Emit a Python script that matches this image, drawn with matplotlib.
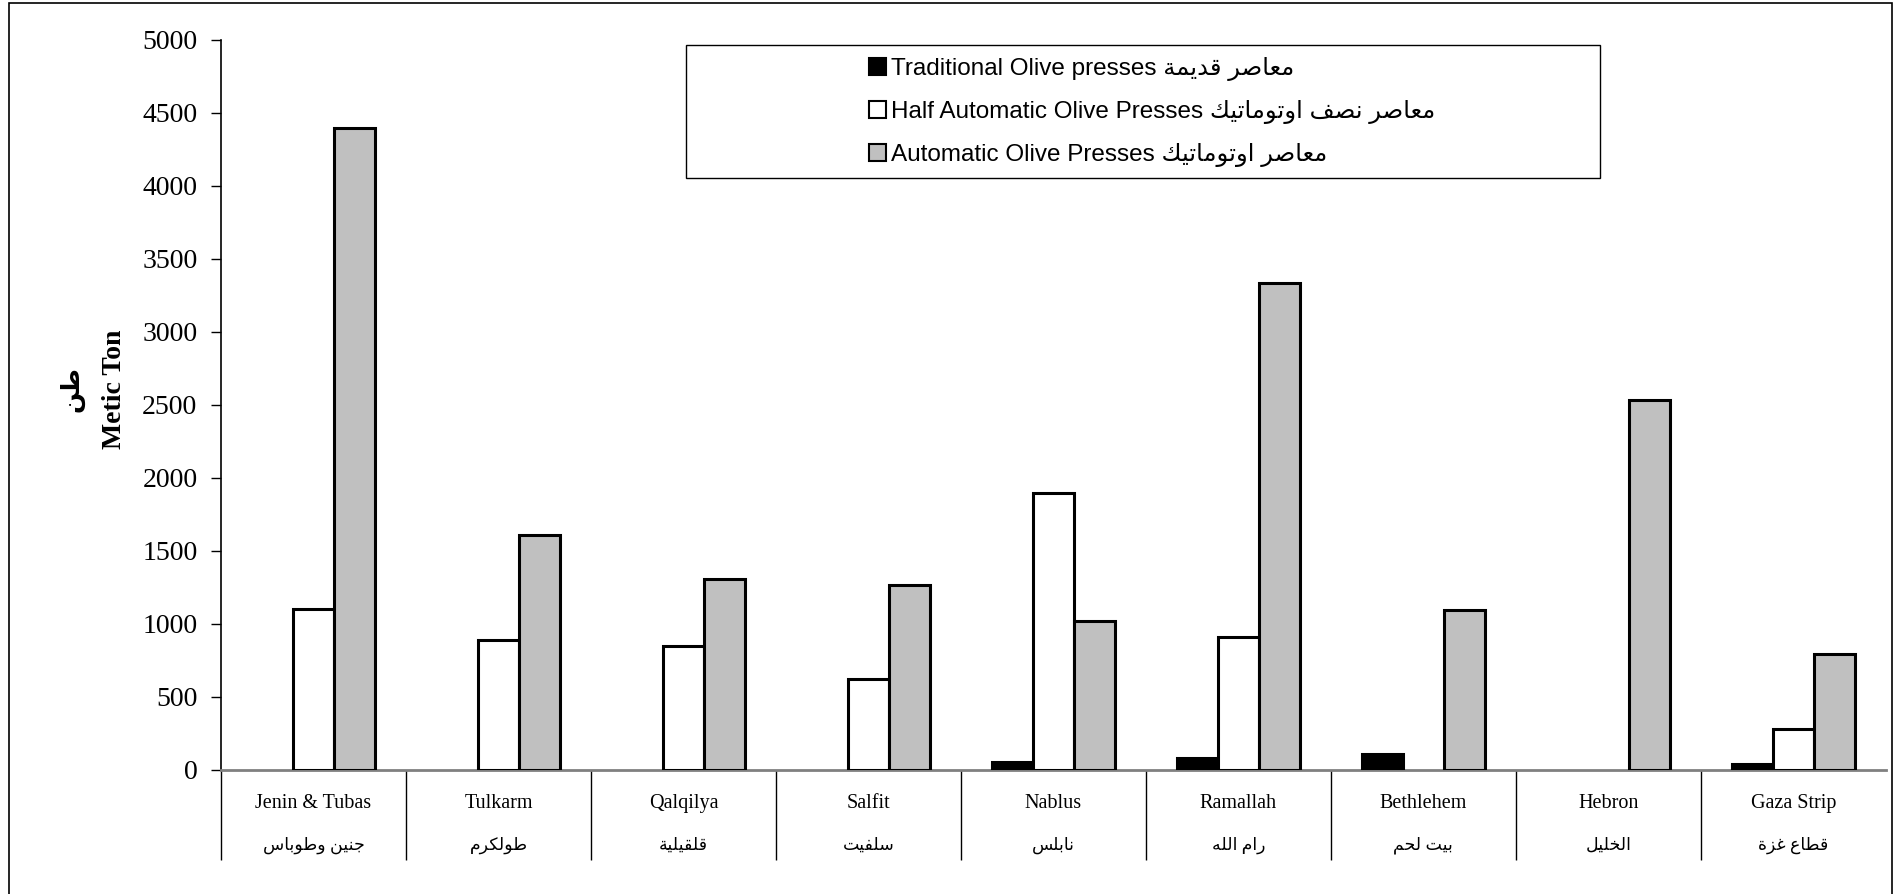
import numpy as np
import matplotlib
matplotlib.use("Agg")
import matplotlib.pyplot as plt
from matplotlib.patches import Rectangle
import matplotlib.transforms as mtransforms

# districts (English / Arabic)
districts_en = ["Jenin & Tubas", "Tulkarm", "Qalqilya", "Salfit", "Nablus",
                "Ramallah", "Bethlehem", "Hebron", "Gaza Strip"]
districts_ar = ["جنين وطوباس", "طولكرم", "قلقيلية", "سلفيت", "نابلس",
                "رام الله", "بيت لحم", "الخليل", "قطاع غزة"]

# metric ton per press type
traditional = [0, 0, 0, 0, 50, 80, 110, 0, 35]
half_auto = [1100, 885, 850, 620, 1895, 910, 0, 0, 275]
automatic = [4395, 1605, 1305, 1265, 1015, 3335, 1090, 2530, 795]

series_names = [("Traditional Olive presses ", "معاصر قديمة"),
                ("Half Automatic Olive Presses ", "معاصر نصف اوتوماتيك"),
                ("Automatic Olive Presses ", "معاصر اوتوماتيك")]
series_colors = ["black", "white", "#c0c0c0"]

# --- minimal arabic shaping (matplotlib has no bidi / joining) ---
_dual = {"ب": 0xFE8F, "ت": 0xFE95, "ث": 0xFE99, "ج": 0xFE9D, "ح": 0xFEA1,
         "خ": 0xFEA5, "س": 0xFEB1, "ش": 0xFEB5, "ص": 0xFEB9, "ض": 0xFEBD,
         "ط": 0xFEC1, "ظ": 0xFEC5, "ع": 0xFEC9, "غ": 0xFECD, "ف": 0xFED1,
         "ق": 0xFED5, "ك": 0xFED9, "ل": 0xFEDD, "م": 0xFEE1, "ن": 0xFEE5,
         "ه": 0xFEE9, "ي": 0xFEF1}
_right = {"ا": 0xFE8D, "ة": 0xFE93, "د": 0xFEA9, "ذ": 0xFEAB, "ر": 0xFEAD,
          "ز": 0xFEAF, "و": 0xFEED, "ى": 0xFEEF}


def shape(txt):
    out = []
    for i, c in enumerate(txt):
        prev = txt[i - 1] if i > 0 else ""
        nxt = txt[i + 1] if i + 1 < len(txt) else ""
        jp = prev in _dual
        if c in _dual:
            jn = nxt in _dual or nxt in _right
            base = _dual[c]
            if jp and jn:
                out.append(chr(base + 3))
            elif jp:
                out.append(chr(base + 1))
            elif jn:
                out.append(chr(base + 2))
            else:
                out.append(chr(base))
        elif c in _right:
            out.append(chr(_right[c] + (1 if jp else 0)))
        else:
            out.append(c)
    return "".join(out)[::-1]


serif = ["Liberation Serif", "DejaVu Sans"]
sans = ["Liberation Sans", "DejaVu Sans"]

fig = plt.figure(figsize=(18.94, 8.94), dpi=100)
ax = fig.add_axes([0.1167, 0.1392, 0.879, 0.8162])

x = np.arange(len(districts_en))
w = 0.222
for k, (vals, col) in enumerate(zip([traditional, half_auto, automatic], series_colors)):
    idx = [i for i, v in enumerate(vals) if v > 0]
    ax.bar(x[idx] + (k - 1) * w, [vals[i] for i in idx], width=w, color=col,
           edgecolor="black", linewidth=2.2, zorder=3)

ax.set_xlim(-0.5, len(districts_en) - 0.5)
ax.set_ylim(0, 5000)
ax.set_yticks(np.arange(0, 5001, 500))
ax.set_yticklabels([str(v) for v in range(0, 5001, 500)], family=serif, fontsize=20)
ax.tick_params(axis="y", direction="out", length=7, width=1, pad=10)
ax.set_xticks([])
for s in ["top", "right"]:
    ax.spines[s].set_visible(False)
ax.spines["left"].set_linewidth(1.2)
ax.spines["bottom"].set_color("#808080")
ax.spines["bottom"].set_linewidth(2)

# category table under the axis
trans = mtransforms.blended_transform_factory(ax.transData, ax.transAxes)
ax.vlines(np.arange(-0.5, len(districts_en) - 1), -0.124, 0, transform=trans,
          colors="black", linewidth=1, clip_on=False)
for i, (en, ar) in enumerate(zip(districts_en, districts_ar)):
    ax.text(i, -0.047, en, transform=trans, ha="center", va="center",
            family=serif, fontsize=14.5)
    ax.text(i, -0.104, shape(ar), transform=trans, ha="center", va="center",
            family=serif, fontsize=12.5)

# y labels
fig.text(0.0606, 0.565, "Metic Ton", rotation=90, ha="center", va="center",
         family=serif, fontsize=20, fontweight="bold")
fig.text(0.038, 0.565, shape("طن"), rotation=90, ha="center", va="center",
         family=serif, fontsize=18, fontweight="bold")

# legend in its box
fig.patches.append(Rectangle((0.3622, 0.8014), 0.4828, 0.1486, transform=fig.transFigure,
                             facecolor="white", edgecolor="black", linewidth=1, zorder=5))
handles = [Rectangle((0, 0), 1, 1, facecolor=c, edgecolor="black", linewidth=1.5)
           for c in series_colors]
labels = [en + shape(ar) for en, ar in series_names]
leg = fig.legend(handles, labels, loc="upper left", bbox_to_anchor=(0.4475, 0.961),
                 frameon=False, handlelength=0.7, handleheight=0.7, handletextpad=0.2,
                 labelspacing=0.78, prop={"family": sans, "size": 17.5})
leg.set_zorder(6)

# outer frame
fig.patches.append(Rectangle((0.005, -0.01), 0.9937, 1.007, transform=fig.transFigure,
                             facecolor="none", edgecolor="black", linewidth=1.2))

fig.savefig("out.png", dpi=100)
